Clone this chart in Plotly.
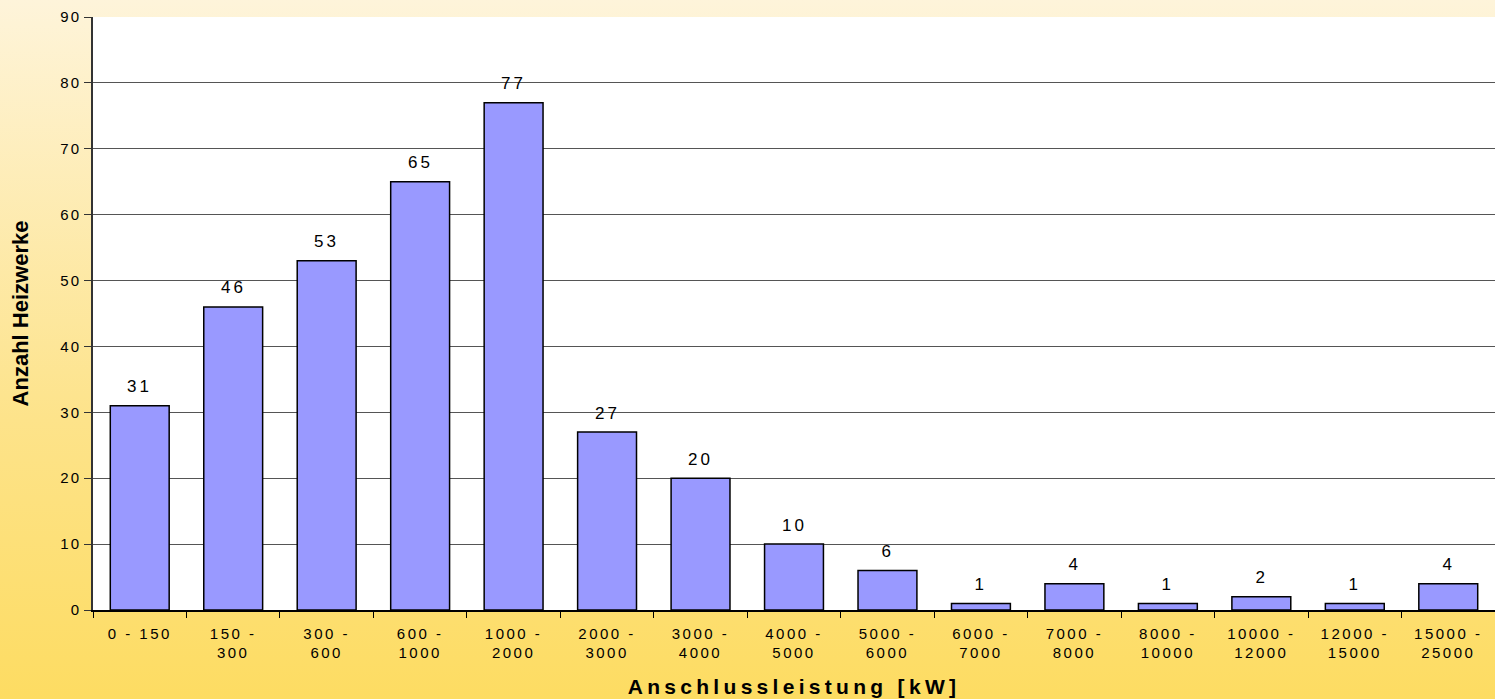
import base64
import plotly.graph_objects as go

categories = ["0 - 150", "150 -<br>300", "300 -<br>600", "600 -<br>1000", "1000 -<br>2000",
              "2000 -<br>3000", "3000 -<br>4000", "4000 -<br>5000", "5000 -<br>6000",
              "6000 -<br>7000", "7000 -<br>8000", "8000 -<br>10000", "10000 -<br>12000",
              "12000 -<br>15000", "15000 -<br>25000"]
values = [31, 46, 53, 65, 77, 27, 20, 10, 6, 1, 4, 1, 2, 1, 4]
y_ticks = [0, 10, 20, 30, 40, 50, 60, 70, 80, 90]

FONT = "Liberation Sans, Arial, sans-serif"

svg = ('<svg xmlns="http://www.w3.org/2000/svg" width="100" height="100" preserveAspectRatio="none">'
       '<defs><linearGradient id="g" x1="0" y1="0" x2="0" y2="1">'
       '<stop offset="0" stop-color="#FEF4DA"/><stop offset="0.6" stop-color="#FDE38A"/>'
       '<stop offset="1" stop-color="#FDDC62"/></linearGradient></defs>'
       '<rect width="100" height="100" fill="url(#g)"/></svg>')
src = "data:image/svg+xml;base64," + base64.b64encode(svg.encode()).decode()

fig = go.Figure()
fig.add_trace(go.Bar(
    x=categories, y=values,
    marker=dict(color="#9999FF", line=dict(color="black", width=1.5)),
    hoverinfo="x+y",
))

for c, v in zip(categories, values):
    fig.add_annotation(x=c, y=v, text=str(v), showarrow=False, yshift=19,
                       font=dict(family=FONT, size=17, color="black"))

fig.update_layout(
    width=1495, height=699,
    margin=dict(l=93, r=0, t=17, b=89),
    paper_bgcolor="#FDE38A",
    plot_bgcolor="white",
    bargap=0.37,
    showlegend=False,
    font=dict(family=FONT, color="black"),
    images=[dict(source=src, xref="paper", yref="paper", x=-0.067, y=1.029, sizex=1.07, sizey=1.18,
                 xanchor="left", yanchor="top", sizing="stretch", layer="below")],
    shapes=[dict(type="rect", xref="x domain", yref="y domain", x0=0, x1=1, y0=0, y1=1,
                 fillcolor="white", line=dict(width=0), layer="below")],
)
fig.update_xaxes(
    type="category", tickson="boundaries", ticks="outside", ticklen=6, tickcolor="black",
    showline=True, linecolor="black", linewidth=1.5, showgrid=False, ticklabelstandoff=9,
    tickfont=dict(family=FONT, size=15, color="black"),
    title=dict(text="<b>Anschlussleistung [kW]</b>", font=dict(family=FONT, size=21, color="black"), standoff=19),
)
fig.update_yaxes(
    range=[0, 90], tickvals=y_ticks, ticks="outside", ticklen=7, tickcolor="#333333",
    showline=True, linecolor="#333333", linewidth=2, showgrid=True, gridcolor="#555555", gridwidth=1,
    tickfont=dict(family=FONT, size=15, color="black"), zeroline=False,
    title=dict(text="<b>Anzahl Heizwerke</b>", font=dict(family=FONT, size=22, color="black"), standoff=30),
)

post = """
document.body.style.margin='0';
var s=document.createElement('style');
s.textContent='.xtick text{letter-spacing:2.5px;} .ytick text{letter-spacing:2px;} .xtitle{letter-spacing:4.3px;} .annotation-text{letter-spacing:3px;}';
document.head.appendChild(s);
"""
fig.write_html("out.html", post_script=post, config={"displayModeBar": False})
